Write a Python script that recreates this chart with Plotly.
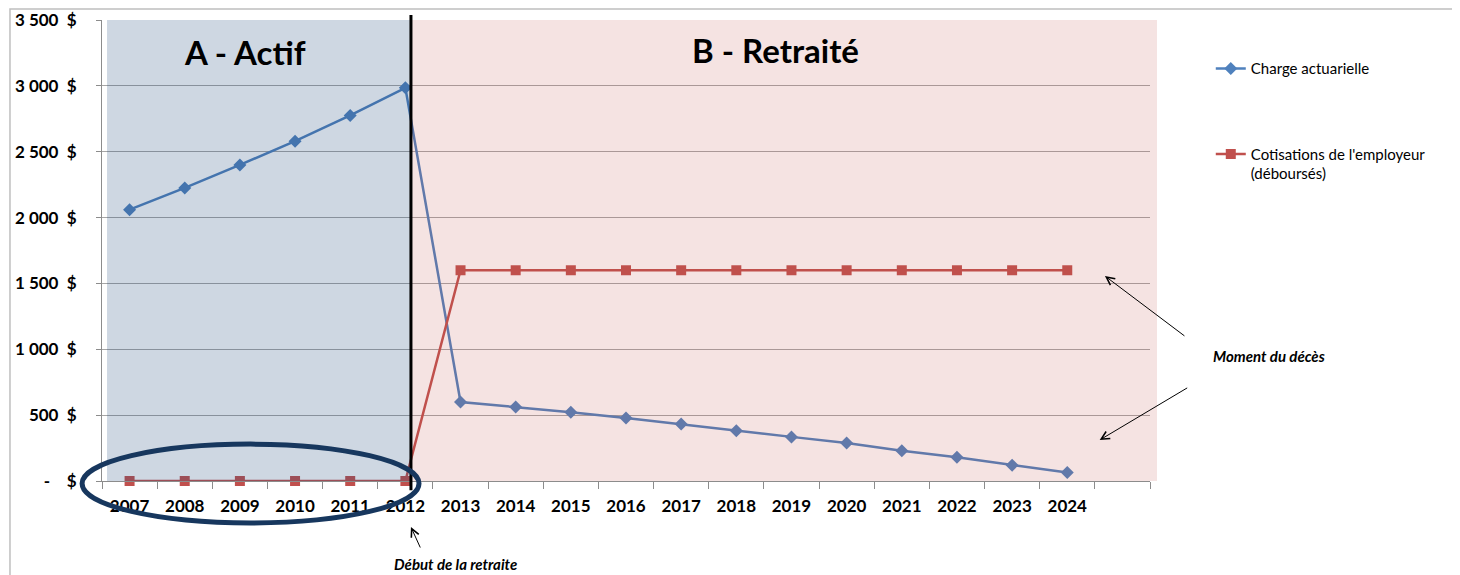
import plotly.graph_objects as go

years = [2007, 2008, 2009, 2010, 2011, 2012, 2013, 2014, 2015, 2016, 2017, 2018,
         2019, 2020, 2021, 2022, 2023, 2024]
charge_actuarielle = [2060, 2225, 2400, 2580, 2775, 2985, 600, 562, 522, 478, 432,
                      382, 335, 288, 230, 180, 120, 65]
cotisations = [0, 0, 0, 0, 0, 0, 1600, 1600, 1600, 1600, 1600, 1600, 1600, 1600,
               1600, 1600, 1600, 1600]
y_ticks = [0, 500, 1000, 1500, 2000, 2500, 3000, 3500]
y_labels = ["-\u00a0\u00a0\u00a0\u00a0$", "500\u00a0\u00a0$", "1\u00a0000\u00a0\u00a0$",
            "1\u00a0500\u00a0\u00a0$", "2\u00a0000\u00a0\u00a0$", "2\u00a0500\u00a0\u00a0$",
            "3\u00a0000\u00a0\u00a0$", "3\u00a0500\u00a0\u00a0$"]
series_names = ["Charge actuarielle", "Cotisations de l'employeur<br>(déboursés)"]

FONT = "Lato, 'Open Sans', sans-serif"
BLUE = "#4F81BD"
RED = "#C0504D"

fig = go.Figure()
fig.add_trace(go.Scatter(
    x=years, y=charge_actuarielle, name=series_names[0], mode="lines+markers",
    line=dict(color=BLUE, width=2.5), marker=dict(symbol="diamond", size=10, color=BLUE),
    legendgroup="a", cliponaxis=False))
fig.add_trace(go.Scatter(
    x=years, y=cotisations, name=series_names[1], mode="lines+markers",
    line=dict(color=RED, width=2.5), marker=dict(symbol="square", size=10, color=RED),
    legendgroup="b", cliponaxis=False))

axis_gray = "#8C8C8C"
fig.update_layout(
    width=1452, height=567,
    margin=dict(l=94, r=310, t=12, b=94, autoexpand=False),
    paper_bgcolor="white", plot_bgcolor="white",
    font=dict(family=FONT, color="black"),
    legend=dict(x=1.058, y=0.93, xanchor="left", yanchor="top",
                font=dict(size=15, family=FONT), tracegroupgap=63, valign="top",
                itemwidth=30, bgcolor="rgba(0,0,0,0)"),
    xaxis=dict(range=[2006.5, 2025.5], tickvals=years, ticktext=[str(y) for y in years],
               ticks="", showgrid=False, zeroline=False, showline=True, automargin=False,
               linecolor=axis_gray, linewidth=1, ticklabelstandoff=10,
               tickfont=dict(size=17, family=FONT, color="black", weight="bold"),
               minor=dict(tickvals=[2006.5 + i for i in range(20)], ticks="outside",
                          ticklen=7, tickcolor=axis_gray, showgrid=False)),
    yaxis=dict(range=[0, 3500], tickvals=y_ticks, ticktext=y_labels, showgrid=True,
               gridcolor="#A6A6A6", gridwidth=1, zeroline=False, showline=True,
               automargin=False,
               linecolor=axis_gray, linewidth=1, ticks="outside", ticklen=5,
               tickcolor=axis_gray, ticklabelstandoff=16,
               tickfont=dict(size=17, family=FONT, color="black", weight="bold")),
)

shapes = [
    # chart frame
    dict(type="rect", xref="paper", yref="paper", x0=-0.0878, x1=1.6, y0=-0.4, y1=1.0239,
         line=dict(color="#BFBFBF", width=1.5), fillcolor="rgba(0,0,0,0)", layer="above"),
    # A - Actif shading
    dict(type="rect", xref="paper", yref="paper", x0=0.0048, x1=0.2948, y0=0, y1=1,
         fillcolor="rgba(31,73,125,0.22)", line=dict(width=0), layer="above"),
    # B - Retraité shading
    dict(type="rect", xref="paper", yref="paper", x0=0.2948, x1=1.0067, y0=0, y1=1,
         fillcolor="rgba(192,80,77,0.16)", line=dict(width=0), layer="above"),
    # retirement line
    dict(type="line", xref="paper", yref="paper", x0=0.2948, x1=0.2948, y0=-0.02, y1=1.011,
         line=dict(color="black", width=3), layer="above"),
    # ellipse
    dict(type="circle", xref="paper", yref="paper", x0=-0.019, x1=0.3025, y0=-0.091, y1=0.080,
         line=dict(color="#17375E", width=5), layer="above"),
]
fig.update_layout(shapes=shapes)

def label(text, x, y, size):
    return dict(text=text, xref="paper", yref="paper", x=x, y=y, xanchor="center",
                yanchor="middle", showarrow=False,
                font=dict(size=size, family=FONT, color="black"))

def arrow(x, y, ax, ay):
    return dict(text="", xref="paper", yref="paper", x=x, y=y, ax=ax, ay=ay,
                showarrow=True, arrowhead=5, arrowsize=1.6, arrowwidth=1,
                arrowcolor="black", standoff=0)

annotations = [
    label("<b>A - Actif</b>", 0.1365, 0.9306, 33),
    label("<b>B - Retraité</b>", 0.643, 0.935, 33),
    label("<b><i>Moment du décès</i></b>", 1.1136, 0.2711, 15),
    label("<b><i>Début de la retraite</i></b>", 0.337, -0.18, 15),
    arrow(0.957, 0.4447, 81, 61),
    arrow(0.952, 0.0889, 89, -53),
    arrow(0.2948, -0.0998, 10, 22),
]
fig.update_layout(annotations=annotations)

fig.write_html("out.html")
